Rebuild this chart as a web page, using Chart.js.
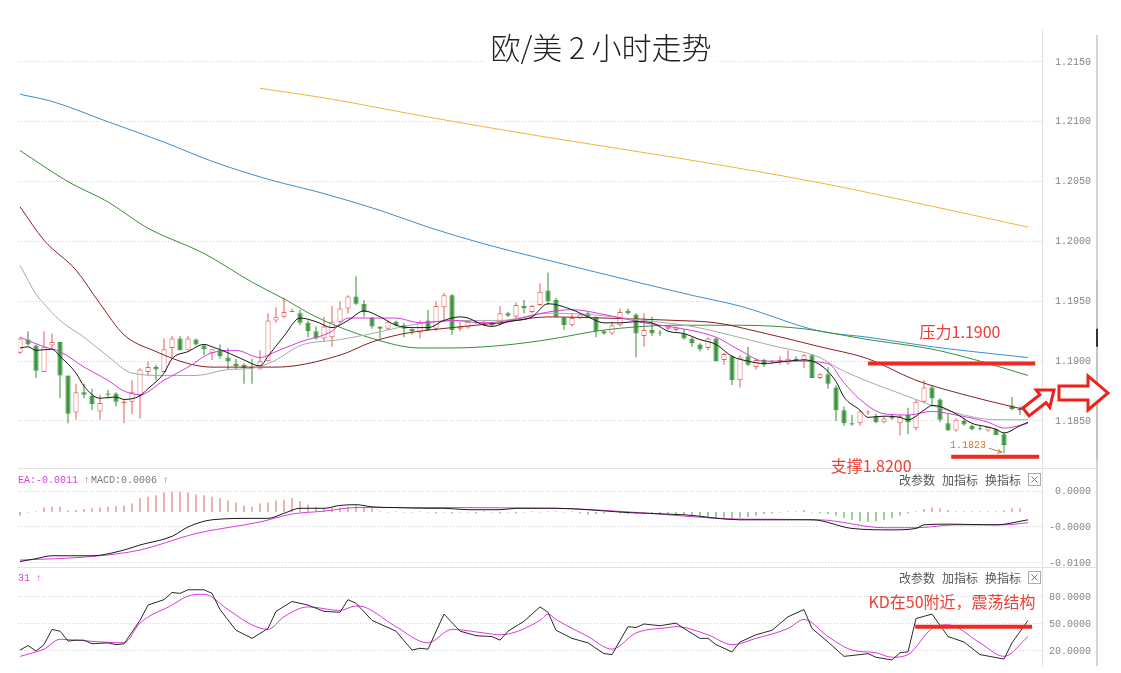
<!DOCTYPE html>
<html>
<head>
<meta charset="utf-8">
<script src="https://cdn.jsdelivr.net/npm/chart.js@4.4.1/dist/chart.umd.min.js"></script>
<style>
  html, body { margin: 0; padding: 0; background: #fff; }
</style>
</head>
<body>
<canvas id="chart" width="1121" height="673"></canvas>
<script>
// ---- data (2h candles, index 0..125) ----
const candleOpen = [1.1907,1.1918,1.1913,1.1891,1.1913,1.1916,1.1888,1.1857,1.1874,1.1871,
  1.1858,1.1873,1.1873,1.1865,1.1866,1.1871,1.1891,1.1895,1.1891,1.1911,
  1.1919,1.1909,1.1918,1.1913,1.1907,1.1909,1.1903,1.1898,1.1897,1.1895,
  1.1893,1.1900,1.1934,1.1937,1.1941,1.1940,1.1932,1.1925,1.1919,1.1920,
  1.1933,1.1944,1.1954,1.1948,1.1936,1.1929,1.1927,1.1933,1.1930,1.1927,
  1.1924,1.1934,1.1927,1.1945,1.1955,1.1927,1.1928,1.1933,1.1931,1.1932,
  1.1931,1.1940,1.1937,1.1946,1.1941,1.1947,1.1959,1.1951,1.1936,1.1930,
  1.1936,1.1940,1.1937,1.1925,1.1923,1.1930,1.1942,1.1939,1.1921,1.1926,
  1.1924,1.1927,1.1926,1.1923,1.1919,1.1914,1.1911,1.1919,1.1901,1.1904,
  1.1884,1.1904,1.1895,1.1901,1.1899,1.1899,1.1898,1.1902,1.1901,1.1905,
  1.1886,1.1889,1.1878,1.1859,1.1848,1.1848,1.1857,1.1854,1.1849,1.1854,
  1.1848,1.1855,1.1844,1.1866,1.1878,1.1868,1.1848,1.1842,1.1850,1.1846,
  1.1844,1.1842,1.1843,1.1839,1.1863,1.1860];
const candleHigh = [1.1920,1.1925,1.1914,1.1925,1.1923,1.1916,1.1888,1.1881,1.1881,1.1877,
  1.1872,1.1876,1.1874,1.1868,1.1884,1.1894,1.1900,1.1897,1.1919,1.1921,
  1.1921,1.1921,1.1919,1.1914,1.1910,1.1914,1.1911,1.1902,1.1898,1.1902,
  1.1909,1.1940,1.1945,1.1953,1.1944,1.1943,1.1934,1.1929,1.1937,1.1946,
  1.1950,1.1955,1.1971,1.1951,1.1937,1.1929,1.1934,1.1934,1.1932,1.1927,
  1.1934,1.1943,1.1950,1.1957,1.1956,1.1933,1.1934,1.1934,1.1934,1.1933,
  1.1946,1.1941,1.1949,1.1951,1.1947,1.1965,1.1974,1.1953,1.1937,1.1940,
  1.1940,1.1941,1.1937,1.1926,1.1933,1.1944,1.1944,1.1940,1.1940,1.1937,
  1.1926,1.1929,1.1929,1.1927,1.1920,1.1915,1.1920,1.1920,1.1907,1.1905,
  1.1905,1.1912,1.1902,1.1902,1.1901,1.1904,1.1909,1.1904,1.1906,1.1906,
  1.1890,1.1895,1.1880,1.1862,1.1855,1.1859,1.1859,1.1856,1.1854,1.1855,
  1.1855,1.1861,1.1868,1.1884,1.1880,1.1869,1.1856,1.1852,1.1852,1.1847,
  1.1846,1.1845,1.1844,1.1841,1.1870,1.1862];
const candleLow = [1.1906,1.1913,1.1886,1.1891,1.1911,1.1869,1.1848,1.1851,1.1869,1.1859,
  1.1851,1.1869,1.1862,1.1848,1.1856,1.1852,1.1888,1.1884,1.1891,1.1903,
  1.1909,1.1909,1.1913,1.1905,1.1901,1.1902,1.1893,1.1893,1.1881,1.1881,
  1.1893,1.1900,1.1932,1.1936,1.1941,1.1930,1.1920,1.1918,1.1916,1.1912,
  1.1932,1.1940,1.1947,1.1937,1.1927,1.1919,1.1926,1.1929,1.1920,1.1922,
  1.1919,1.1925,1.1925,1.1933,1.1922,1.1925,1.1927,1.1931,1.1930,1.1929,
  1.1930,1.1937,1.1936,1.1940,1.1940,1.1946,1.1947,1.1937,1.1926,1.1929,
  1.1935,1.1936,1.1920,1.1922,1.1922,1.1929,1.1939,1.1903,1.1912,1.1921,
  1.1921,1.1926,1.1925,1.1918,1.1912,1.1908,1.1909,1.1900,1.1897,1.1880,
  1.1878,1.1896,1.1893,1.1895,1.1898,1.1897,1.1897,1.1900,1.1894,1.1886,
  1.1885,1.1877,1.1850,1.1846,1.1846,1.1846,1.1855,1.1848,1.1848,1.1851,
  1.1838,1.1839,1.1842,1.1865,1.1862,1.1849,1.1842,1.1841,1.1846,1.1842,
  1.1842,1.1841,1.1838,1.1823,1.1859,1.1855];
const candleClose = [1.1919,1.1914,1.1892,1.1912,1.1916,1.1888,1.1856,1.1874,1.1872,1.1864,
  1.1865,1.1872,1.1866,1.1866,1.1874,1.1893,1.1895,1.1893,1.1910,1.1919,
  1.1909,1.1919,1.1914,1.1910,1.1910,1.1904,1.1900,1.1896,1.1894,1.1894,
  1.1900,1.1934,1.1937,1.1941,1.1941,1.1932,1.1925,1.1919,1.1929,1.1933,
  1.1944,1.1954,1.1948,1.1941,1.1929,1.1927,1.1933,1.1930,1.1927,1.1925,
  1.1932,1.1926,1.1946,1.1955,1.1926,1.1929,1.1933,1.1932,1.1933,1.1930,
  1.1940,1.1938,1.1947,1.1944,1.1946,1.1958,1.1950,1.1937,1.1930,1.1936,
  1.1939,1.1937,1.1925,1.1923,1.1930,1.1941,1.1940,1.1923,1.1926,1.1923,
  1.1923,1.1929,1.1928,1.1919,1.1915,1.1910,1.1919,1.1900,1.1906,1.1884,
  1.1903,1.1897,1.1901,1.1897,1.1900,1.1901,1.1902,1.1901,1.1905,1.1886,
  1.1889,1.1881,1.1859,1.1848,1.1847,1.1858,1.1858,1.1849,1.1852,1.1852,
  1.1854,1.1849,1.1866,1.1878,1.1869,1.1851,1.1842,1.1851,1.1847,1.1843,
  1.1843,1.1845,1.1838,1.1830,1.1860,1.1859];

// moving averages, [candle index, price]
const ma5 = [[0,1.1911],[1,1.1912],[2,1.1909],[4,1.1910],[5,1.1904],[7,1.1890],[8,1.1879],[10,1.1869],[12,1.1870],[13,1.1868],
  [15,1.1871],[16,1.1877],[18,1.1890],[19,1.1902],[21,1.1908],[23,1.1914],[24,1.1912],[26,1.1907],[28,1.1901],[30,1.1896],
  [31,1.1904],[33,1.1921],[35,1.1936],[37,1.1933],[39,1.1928],[41,1.1934],[43,1.1942],[45,1.1937],[47,1.1930],[49,1.1928],
  [51,1.1928],[53,1.1934],[55,1.1937],[56,1.1936],[58,1.1930],[59,1.1929],[61,1.1933],[64,1.1937],[66,1.1948],[69,1.1943],
  [71,1.1937],[73,1.1932],[75,1.1932],[77,1.1933],[79,1.1932],[81,1.1925],[83,1.1923],[85,1.1918],[87,1.1914],[89,1.1904],
  [91,1.1900],[93,1.1898],[96,1.1900],[98,1.1901],[100,1.1897],[102,1.1883],[103,1.1870],[105,1.1859],[106,1.1853],[108,1.1854],
  [110,1.1853],[111,1.1851],[113,1.1859],[114,1.1863],[115,1.1862],[117,1.1856],[119,1.1848],[121,1.1845],[122,1.1843],[123,1.1840],
  [125,1.1846],[126,1.1849]];
const ma10 = [[0,1.1920],[3,1.1912],[5,1.1908],[8,1.1895],[11,1.1884],[13,1.1875],[15,1.1872],[18,1.1884],[21,1.1895],[24,1.1907],
  [27,1.1909],[30,1.1903],[32,1.1908],[35,1.1916],[39,1.1925],[41,1.1936],[47,1.1936],[50,1.1932],[54,1.1934],[58,1.1932],
  [62,1.1935],[66,1.1941],[69,1.1943],[73,1.1939],[78,1.1932],[82,1.1928],[87,1.1920],[90,1.1909],[93,1.1900],[97,1.1900],
  [101,1.1898],[103,1.1882],[105,1.1868],[108,1.1856],[111,1.1855],[114,1.1858],[117,1.1855],[121,1.1849],[123,1.1844],[126,1.1848]];
const ma20 = [[0,1.1980],[2,1.1956],[3,1.1948],[5,1.1934],[8,1.1920],[11,1.1904],[14,1.1890],[18,1.1888],[22,1.1888],[26,1.1893],
  [29,1.1894],[32,1.1901],[35,1.1913],[40,1.1918],[44,1.1923],[48,1.1929],[52,1.1933],[56,1.1934],[60,1.1934],[66,1.1940],
  [71,1.1939],[78,1.1934],[84,1.1929],[88,1.1923],[94,1.1913],[100,1.1903],[102,1.1895],[106,1.1883],[110,1.1873],[114,1.1863],
  [118,1.1855],[122,1.1851],[126,1.1851]];
const ma30 = [[0,1.2029],[3,1.2001],[7,1.1976],[10,1.1948],[13,1.1922],[17,1.1908],[21,1.1898],[24,1.1895],[28,1.1895],[32,1.1895],
  [40,1.1905],[44,1.1916],[48,1.1923],[54,1.1928],[60,1.1932],[66,1.1937],[73,1.1936],[82,1.1934],[87,1.1932],[92,1.1925],
  [100,1.1912],[106,1.1902],[112,1.1884],[118,1.1872],[124,1.1862],[126,1.1859]];
const ma60 = [[0,1.2076],[6,1.2050],[11,1.2033],[16,1.2011],[23,1.1990],[29,1.1966],[33,1.1952],[37,1.1937],[44,1.1919],[50,1.1911],
  [54,1.1911],[60,1.1913],[66,1.1918],[73,1.1926],[82,1.1930],[90,1.1930],[98,1.1927],[106,1.1918],[114,1.1910],[120,1.1900],[126,1.1888]];
const ma120 = [[0,1.2123],[4,1.2117],[11,1.2100],[18,1.2083],[24,1.2067],[31,1.2052],[38,1.2040],[45,1.2026],[51,1.2012],[58,1.1998],
  [65,1.1986],[71,1.1976],[84,1.1955],[90,1.1946],[100,1.1925],[106,1.1920],[114,1.1912],[126,1.1903]];
const ma250 = [[30,1.2128],[38,1.2120],[51,1.2104],[65,1.2088],[82,1.2070],[100,1.2049],[115,1.2028],[126,1.2012]];

// MACD panel
const macdHist = [-0.0005,-0.0001,0.0001,0.0006,0.0007,0.0007,0.0002,0.0003,0.0004,0.0005,
  0.0006,0.0007,0.0008,0.0009,0.0012,0.0019,0.0021,0.0023,0.0027,0.0028,
  0.0028,0.0027,0.0024,0.0023,0.0021,0.0019,0.0016,0.0013,0.0009,0.0007,
  0.0012,0.0013,0.0016,0.0017,0.0019,0.0015,0.0010,0.0007,0.0005,0.0006,
  0.0006,0.0007,0.0009,0.0007,0.0005,0.0001,-0.0001,0.0001,-0.0001,-0.0001,
  0.0001,-0.0001,-0.0002,-0.0001,-0.0002,-0.0001,-0.0001,-0.0002,0.0001,-0.0001,
  -0.0002,-0.0001,-0.0002,-0.0001,0.0001,-0.0001,0.0001,0.0001,-0.0001,0.0001,
  -0.0002,-0.0004,-0.0003,-0.0002,0.0001,-0.0002,-0.0003,-0.0003,-0.0002,-0.0003,
  -0.0002,-0.0003,-0.0004,-0.0004,-0.0005,-0.0006,-0.0007,-0.0008,-0.0008,-0.0009,
  -0.0008,-0.0007,-0.0005,-0.0003,-0.0002,-0.0001,0.0001,0.0001,0.0003,-0.0001,
  -0.0002,-0.0003,-0.0005,-0.0008,-0.0011,-0.0013,-0.0014,-0.0013,-0.0011,-0.0009,
  -0.0005,-0.0002,0.0001,0.0004,0.0006,0.0005,0.0003,0.0001,0.0001,0.0001,
  0.0001,0.0001,0.0001,0.0002,0.0005,0.0005];
const macdBase = -0.0029; // where the histogram's zero sits on the drawn axis
const macdDif = [[0,-0.0098],[2,-0.0094],[4,-0.0090],[9,-0.0090],[13,-0.0082],[15,-0.0075],[19,-0.0063],[21,-0.0050],[24,-0.0040],[29,-0.0038],
  [31,-0.0038],[33,-0.0031],[35,-0.0024],[38,-0.0024],[40,-0.0020],[42,-0.0019],[44,-0.0022],[47,-0.0023],[51,-0.0024],[53,-0.0024],
  [56,-0.0026],[60,-0.0026],[62,-0.0024],[65,-0.0024],[67,-0.0024],[71,-0.0026],[76,-0.0030],[83,-0.0033],[90,-0.0040],[95,-0.0040],
  [99,-0.0040],[104,-0.0052],[109,-0.0054],[112,-0.0052],[113,-0.0047],[116,-0.0046],[122,-0.0047],[126,-0.0040]];
const macdDea = [[0,-0.0096],[9,-0.0091],[15,-0.0082],[22,-0.0059],[30,-0.0043],[34,-0.0032],[38,-0.0028],[42,-0.0023],[47,-0.0023],[67,-0.0024],
  [76,-0.0029],[90,-0.0039],[100,-0.0040],[108,-0.0051],[112,-0.0051],[117,-0.0047],[123,-0.0047],[126,-0.0044]];

// KD panel
const kdK = [[0,21],[1,26],[2,20],[3,27],[4,44],[5,42],[6,31],[7,32],[8,32],[9,28],[11,29],[12,27],[13,28],[15,54],[16,71],[18,77],
  [19,85],[20,84],[21,88],[23,88],[24,84],[25,66],[27,43],[29,34],[31,45],[32,64],[34,75],[36,71],[38,64],[40,63],[41,77],[42,73],
  [44,54],[47,42],[49,21],[50,23],[51,22],[53,61],[55,42],[57,37],[59,36],[60,32],[61,42],[63,53],[65,69],[66,63],[67,43],[69,34],
  [71,29],[73,17],[74,16],[76,47],[77,46],[78,50],[80,48],[82,51],[83,45],[85,34],[86,34],[87,27],[89,19],[90,30],[92,38],[94,43],
  [96,58],[98,66],[99,45],[101,30],[103,14],[106,17],[107,13],[109,10],[110,18],[111,19],[112,56],[114,61],[116,36],[118,30],[120,16],
  [123,11],[124,29],[126,54]];
const kdD = [[0,14],[2,19],[3,22],[5,33],[7,32],[13,29],[15,51],[19,71],[21,81],[23,83],[26,66],[29,49],[31,44],[33,58],[36,69],[40,65],
  [42,70],[43,69],[47,47],[51,29],[54,44],[58,40],[60,38],[65,54],[66,61],[67,55],[71,36],[74,22],[77,40],[81,46],[82,47],[86,38],
  [89,27],[92,34],[96,45],[98,55],[101,36],[104,21],[107,18],[109,13],[111,16],[114,45],[116,49],[120,29],[123,14],[126,36]];

// tick labels
const priceTicks = [1.185, 1.19, 1.195, 1.2, 1.205, 1.21, 1.215];
const macdTicks = [0, -0.005, -0.01];
const macdTickLabels = ['0.0000', '-0.0000', '-0.0100'];
const kdTicks = [80, 50, 20];

// texts
const titleText = '欧/美 2 小时走势';
const resistance = { text: '压力1.1900', price: 1.1898, from: 106, to: 126.9 };
const support = { text: '支撑1.8200', price: 1.1820, from: 116.4, to: 127.4 };
const lowMark = { text: '1.1823', index: 123, price: 1.1823 };
const kdNote = { text: 'KD在50附近，震荡结构', level: 47, from: 111.9, to: 126.5 };
const toolLabels = ['改参数', '加指标', '换指标'];

// ---- colours ----
const RED = '#e0625c', GREEN = '#3b963b', MAGENTA = '#dc3cdc';

const idx = candleOpen.map((v, i) => i);
const isUp = idx.map(i => candleClose[i] >= candleOpen[i]);
const pts = arr => arr.map(p => ({ x: p[0], y: p[1] }));

function lineSet(label, points, color, axis, smooth) {
  return {
    type: 'line', label, data: pts(points), yAxisID: axis,
    borderColor: color, borderWidth: 1, pointRadius: 0, fill: false,
    cubicInterpolationMode: smooth ? 'monotone' : 'default', tension: 0
  };
}

const chart = document.querySelector('#chart').getContext('2d');

// draws titles, notes, frames
const overlay = {
  id: 'overlay',
  afterDraw(c) {
    const ctx = c.ctx, area = c.chartArea;
    const xs = c.scales.x, yp = c.scales.yPrice, ym = c.scales.yMacd, yk = c.scales.yKd;
    const outer = area.right + 55;
    ctx.save();

    // panel frames
    ctx.lineWidth = 1;
    ctx.strokeStyle = '#e2e2e2';
    ctx.beginPath();
    ctx.moveTo(area.right + 0.5, area.top); ctx.lineTo(area.right + 0.5, area.bottom);
    [ym.top, yk.top].forEach(t => { ctx.moveTo(area.left, t + 0.5); ctx.lineTo(outer, t + 0.5); });
    ctx.stroke();
    ctx.strokeStyle = '#d4d4d4'; ctx.lineWidth = 2;
    ctx.beginPath(); ctx.moveTo(outer, area.top + 5); ctx.lineTo(outer, area.bottom); ctx.stroke();
    ctx.strokeStyle = '#c4c4c4';
    ctx.beginPath(); ctx.moveTo(outer, yp.getPixelForValue(1.1968)); ctx.lineTo(outer, yp.getPixelForValue(1.1818)); ctx.stroke();
    ctx.strokeStyle = '#333';
    ctx.beginPath(); ctx.moveTo(outer, yp.getPixelForValue(1.1927)); ctx.lineTo(outer, yp.getPixelForValue(1.1912)); ctx.stroke();

    // title
    ctx.font = '300 30px "Noto Sans CJK SC"';
    ctx.textAlign = 'center'; ctx.textBaseline = 'middle';
    const tw = ctx.measureText(titleText).width;
    ctx.fillStyle = '#fff';
    ctx.fillRect(601 - tw / 2 - 4, 32, tw + 8, 32);
    ctx.fillStyle = '#222';
    ctx.fillText(titleText, 601, 48);

    // resistance / support lines
    ctx.strokeStyle = '#ee2a24'; ctx.lineWidth = 4;
    [resistance, support].forEach(r => {
      const y = yp.getPixelForValue(r.price);
      ctx.beginPath(); ctx.moveTo(xs.getPixelForValue(r.from), y); ctx.lineTo(xs.getPixelForValue(r.to), y); ctx.stroke();
    });
    ctx.fillStyle = '#ea4038';
    ctx.font = '16px "Noto Sans CJK SC"';
    ctx.fillText(resistance.text, xs.getPixelForValue(117.5), yp.getPixelForValue(1.1924));
    ctx.fillText(support.text, xs.getPixelForValue(106.4), yp.getPixelForValue(1.18124));

    // low label with a small pointer
    const lx = xs.getPixelForValue(lowMark.index), ly = yp.getPixelForValue(lowMark.price);
    ctx.fillStyle = '#cf7a2e'; ctx.strokeStyle = '#cf7a2e'; ctx.lineWidth = 1;
    ctx.font = '10px "Liberation Mono"';
    ctx.textAlign = 'right';
    ctx.fillText(lowMark.text, lx - 18, ly - 8);
    ctx.beginPath(); ctx.moveTo(lx - 15, ly - 5); ctx.lineTo(lx - 2, ly - 1);
    ctx.moveTo(lx - 2, ly - 1); ctx.lineTo(lx - 6, ly - 4);
    ctx.moveTo(lx - 2, ly - 1); ctx.lineTo(lx - 7, ly);
    ctx.stroke();

    // hollow arrows
    hollowArrow(ctx, area.right - 16, yp.getPixelForValue(1.18575), area.right + 12, yp.getPixelForValue(1.18758), 5, 11, 14);
    hollowArrow(ctx, area.right + 17, yp.getPixelForValue(1.18734), area.right + 66, yp.getPixelForValue(1.18734), 7, 17, 20);

    // MACD header
    ctx.textAlign = 'left';
    ctx.font = '10px "Liberation Mono"';
    const hy = ym.top + 12;
    ctx.fillStyle = MAGENTA; ctx.fillText('EA:-0.0011 ↑', area.left, hy);
    ctx.fillStyle = '#777'; ctx.fillText('MACD:0.0006 ↑', area.left + 73, hy);
    toolbar(ctx, area.right, hy);

    // KD header
    const ky = yk.top + 11;
    ctx.font = '10px "Liberation Mono"';
    ctx.fillStyle = MAGENTA; ctx.fillText('31 ↑', area.left, ky);
    toolbar(ctx, area.right, ky);

    // KD note
    const kl = yk.getPixelForValue(kdNote.level);
    ctx.strokeStyle = '#ee2a24'; ctx.lineWidth = 4;
    ctx.beginPath(); ctx.moveTo(xs.getPixelForValue(kdNote.from), kl); ctx.lineTo(xs.getPixelForValue(kdNote.to), kl); ctx.stroke();
    ctx.fillStyle = '#ea4038';
    ctx.font = '16px "Noto Sans CJK SC"';
    ctx.textAlign = 'center';
    ctx.fillText(kdNote.text, xs.getPixelForValue(116.5), yk.getPixelForValue(75));

    ctx.restore();
  }
};

function toolbar(ctx, right, y) {
  ctx.save();
  ctx.font = '12px "Noto Sans CJK SC"';
  ctx.fillStyle = '#555'; ctx.textAlign = 'left'; ctx.textBaseline = 'middle';
  toolLabels.forEach((t, k) => ctx.fillText(t, right - 143 + k * 43, y));
  ctx.strokeStyle = '#aaa'; ctx.lineWidth = 1;
  ctx.strokeRect(right - 13.5, y - 6.5, 12, 12);
  ctx.strokeStyle = '#777';
  ctx.beginPath();
  ctx.moveTo(right - 10.5, y - 3.5); ctx.lineTo(right - 4.5, y + 2.5);
  ctx.moveTo(right - 4.5, y - 3.5); ctx.lineTo(right - 10.5, y + 2.5);
  ctx.stroke();
  ctx.restore();
}

function hollowArrow(ctx, x0, y0, x1, y1, shaft, head, headLen) {
  const len = Math.hypot(x1 - x0, y1 - y0);
  ctx.save();
  ctx.translate(x0, y0);
  ctx.rotate(Math.atan2(y1 - y0, x1 - x0));
  ctx.beginPath();
  ctx.moveTo(0, -shaft);
  ctx.lineTo(len - headLen, -shaft);
  ctx.lineTo(len - headLen, -head);
  ctx.lineTo(len, 0);
  ctx.lineTo(len - headLen, head);
  ctx.lineTo(len - headLen, shaft);
  ctx.lineTo(0, shaft);
  ctx.closePath();
  ctx.fillStyle = '#fff'; ctx.fill();
  ctx.strokeStyle = '#f0201a'; ctx.lineWidth = 3; ctx.lineJoin = 'miter';
  ctx.stroke();
  ctx.restore();
}

const axisFont = { family: 'Liberation Mono', size: 10 };
function panelAxis(weight, min, max, ticks, fmt) {
  return {
    type: 'linear', position: 'right', stack: 'panels', stackWeight: weight,
    min, max,
    afterBuildTicks: a => { a.ticks = ticks.map(v => ({ value: v })); },
    // labels end at the axis' right edge; no label padding eating into the plot height
    afterFit: a => { a.width = 49; a.paddingTop = 0; a.paddingBottom = 0; },
    ticks: { callback: fmt, color: '#858585', font: axisFont, padding: 8, crossAlign: 'far' },
    grid: { color: '#d2d2d2', drawTicks: false, lineWidth: 1 },
    border: { display: false, dash: [1, 2] }
  };
}

new Chart(chart, {
  type: 'bar',
  data: {
    datasets: [
      lineSet('MA5', ma5, '#1c1c1c', 'yPrice', true),
      lineSet('MA10', ma10, MAGENTA, 'yPrice', true),
      lineSet('MA20', ma20, '#a9a9a9', 'yPrice', true),
      lineSet('MA30', ma30, '#8a1f22', 'yPrice', true),
      lineSet('MA60', ma60, '#3a8f3a', 'yPrice', true),
      lineSet('MA120', ma120, '#3c8fd4', 'yPrice', true),
      lineSet('MA250', ma250, '#f1b43a', 'yPrice', true),
      {
        label: 'body', yAxisID: 'yPrice', grouped: false,
        data: idx.map(i => ({ x: i, y: [Math.min(candleOpen[i], candleClose[i]), Math.max(candleOpen[i], candleClose[i])] })),
        backgroundColor: idx.map(i => isUp[i] ? '#fff' : GREEN),
        borderColor: idx.map(i => isUp[i] ? RED : GREEN),
        borderWidth: 1, borderSkipped: false, minBarLength: 1,
        categoryPercentage: 1, barPercentage: 0.65, inflateAmount: 0
      },
      {
        label: 'wick', yAxisID: 'yPrice', grouped: false,
        data: idx.map(i => ({ x: i, y: [candleLow[i], candleHigh[i]] })),
        backgroundColor: idx.map(i => isUp[i] ? RED : GREEN),
        borderWidth: 0, categoryPercentage: 1, barPercentage: 0.13, inflateAmount: 0
      },
      lineSet('DIF', macdDif, '#1c1c1c', 'yMacd', true),
      lineSet('DEA', macdDea, MAGENTA, 'yMacd', true),
      {
        label: 'MACD', yAxisID: 'yMacd', grouped: false,
        data: idx.map(i => ({ x: i, y: [macdBase, macdBase + macdHist[i]] })),
        backgroundColor: idx.map(i => macdHist[i] >= 0 ? '#d86a6a' : '#4c9a4c'),
        borderWidth: 0, categoryPercentage: 1, barPercentage: 0.13, inflateAmount: 0
      },
      lineSet('K', kdK, '#2a2a2a', 'yKd', false),
      lineSet('D', kdD, MAGENTA, 'yKd', true)
    ]
  },
  options: {
    responsive: false,
    devicePixelRatio: 1,
    animation: false,
    layout: { padding: { left: 18, top: 30, right: 30, bottom: 7 } },
    plugins: { legend: { display: false }, tooltip: { enabled: false } },
    scales: {
      x: { type: 'linear', min: -0.25, max: 127.75, offset: false, display: false },
      yPrice: panelAxis(438, 1.18107, 1.21767, priceTicks, v => v.toFixed(4)),
      yMacd: panelAxis(99, -0.01056, 0.0032, macdTicks, v => macdTickLabels[macdTicks.indexOf(v)]),
      yKd: panelAxis(99, 3.3, 113.3, kdTicks, v => v.toFixed(4))
    }
  },
  plugins: [overlay]
});
</script>
</body>
</html>
